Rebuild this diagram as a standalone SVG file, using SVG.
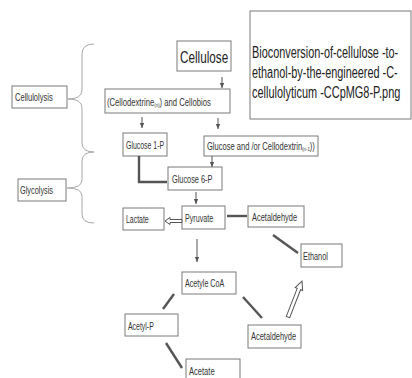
<svg xmlns="http://www.w3.org/2000/svg" width="412" height="378" viewBox="0 0 412 378">
<defs>
<marker id="ah" markerUnits="userSpaceOnUse" markerWidth="6" markerHeight="6" refX="5" refY="3" orient="auto"><path d="M0,0.8 L5,3 L0,5.2 z" fill="#555"/></marker>
<style>
.box{fill:#fff;stroke:#7a7a7a;stroke-width:1}
.t{font-family:"Liberation Sans",Arial,sans-serif;font-size:10.5px;fill:#333}
.big{font-family:"Liberation Sans",Arial,sans-serif;fill:#222}
.thin{stroke:#555;stroke-width:1;fill:none}
.thick{stroke:#555;stroke-width:2.4;fill:none}
.brace{stroke:#a8a8a8;stroke-width:1;fill:none}
.hollow{fill:#fff;stroke:#555;stroke-width:1}
</style>
</defs>
<rect width="412" height="378" fill="#fff"/>
<g id="title">
<rect class="box" x="250" y="11" width="161" height="108"/>
<text class="big" font-size="16" transform="translate(252,58) scale(0.68,1)">Bioconversion-of-cellulose -to-</text>
<text class="big" font-size="16" transform="translate(252,78) scale(0.68,1)">ethanol-by-the-engineered -C-</text>
<text class="big" font-size="16" transform="translate(252,98) scale(0.685,1)">cellulolyticum -CCpMG8-P.png</text>
</g>
<g id="braces">
<path class="brace" d="M94,44 Q82,44 82,54 L82,90 Q82,99 68,99 Q82,99 82,108 L82,143 Q82,152 94,152"/>
<path class="brace" d="M94,152 Q82,152 82,161 L82,180 Q82,188 67,188 Q82,188 82,196 L82,214 Q82,223 94,223"/>
</g>
<g id="cellulolysis"><rect class="box" x="12" y="86" width="55" height="22"/><text class="t" transform="translate(15,101) scale(0.72,1)">Cellulolysis</text></g>
<g id="glycolysis"><rect class="box" x="18" y="179" width="48" height="22"/><text class="t" transform="translate(20,194) scale(0.7,1)">Glycolysis</text></g>
<g id="cellulose"><rect class="box" x="177" y="41" width="54" height="30"/><text class="big" font-size="17" transform="translate(180,63) scale(0.69,1)">Cellulose</text></g>
<g id="cellodextrine"><rect class="box" x="105" y="89" width="125" height="24"/><text class="t" transform="translate(107,106) scale(0.73,1)">(Cellodextrine<tspan font-size="6" dy="1">(n)</tspan><tspan dy="-1">) and Cellobios</tspan></text></g>
<g id="glucose1p"><rect class="box" x="123" y="133" width="44" height="23"/><text class="t" transform="translate(126,149) scale(0.66,1)">Glucose 1-P</text></g>
<g id="glucose-cellodextrin"><rect class="box" x="204" y="136" width="114" height="20"/><text class="t" transform="translate(207,150) scale(0.72,1)">Glucose and /or Cellodextrin<tspan font-size="6" dy="1">(n-1</tspan><tspan dy="-1">))</tspan></text></g>
<g id="glucose6p"><rect class="box" x="168" y="167" width="54" height="23"/><text class="t" transform="translate(172,183) scale(0.7,1)">Glucose 6-P</text></g>
<g id="pyruvate"><rect class="box" x="182" y="206" width="43" height="23"/><text class="t" transform="translate(185,222) scale(0.68,1)">Pyruvate</text></g>
<g id="lactate"><rect class="box" x="123" y="208" width="41" height="22"/><text class="t" transform="translate(126,223) scale(0.66,1)">Lactate</text></g>
<g id="acetaldehyde1"><rect class="box" x="248" y="206" width="56" height="21"/><text class="t" transform="translate(252,221) scale(0.71,1)">Acetaldehyde</text></g>
<g id="ethanol"><rect class="box" x="301" y="244" width="41" height="23"/><text class="t" transform="translate(303,260) scale(0.7,1)">Ethanol</text></g>
<g id="acetylcoa"><rect class="box" x="182" y="272" width="54" height="22"/><text class="t" transform="translate(185,287) scale(0.68,1)">Acetyle CoA</text></g>
<g id="acetylp"><rect class="box" x="125" y="314" width="53" height="22"/><text class="t" transform="translate(128,330) scale(0.66,1)">Acetyl-P</text></g>
<g id="acetaldehyde2"><rect class="box" x="248" y="325" width="53" height="23"/><text class="t" transform="translate(251,340) scale(0.71,1)">Acetaldehyde</text></g>
<g id="acetate"><rect class="box" x="186" y="359" width="54" height="25"/><text class="t" transform="translate(189,375) scale(0.72,1)">Acetate</text></g>
<g id="connectors">
<line class="thin" x1="222" y1="77" x2="222" y2="88" marker-end="url(#ah)"/>
<line class="thin" x1="142" y1="117" x2="142" y2="128" marker-end="url(#ah)"/>
<line class="thin" x1="218" y1="118" x2="218" y2="129" marker-end="url(#ah)"/>
<polyline class="thick" points="139,156 139,182 167,182"/>
<line class="thin" x1="212" y1="156" x2="212" y2="167" marker-end="url(#ah)"/>
<line class="thin" x1="196" y1="192" x2="196" y2="204" marker-end="url(#ah)"/>
<polygon class="hollow" points="182,219.5 170,219.5 170,217.5 165,221 170,224.5 170,222.5 182,222.5"/>
<line class="thick" x1="227" y1="216" x2="247" y2="216"/>
<line class="thick" x1="273" y1="235" x2="298" y2="253"/>
<line class="thin" x1="197" y1="239" x2="197" y2="262" marker-end="url(#ah)"/>
<line class="thick" x1="174" y1="294" x2="163" y2="309"/>
<line class="thick" x1="166" y1="343" x2="182" y2="368"/>
<line class="thick" x1="243" y1="297" x2="262" y2="318"/>
<polygon class="hollow" transform="translate(288,317) rotate(-68.7)" points="0,-1.8 30,-1.8 30,-4 38.6,0 30,4 30,1.8 0,1.8"/>
</g>
</svg>
